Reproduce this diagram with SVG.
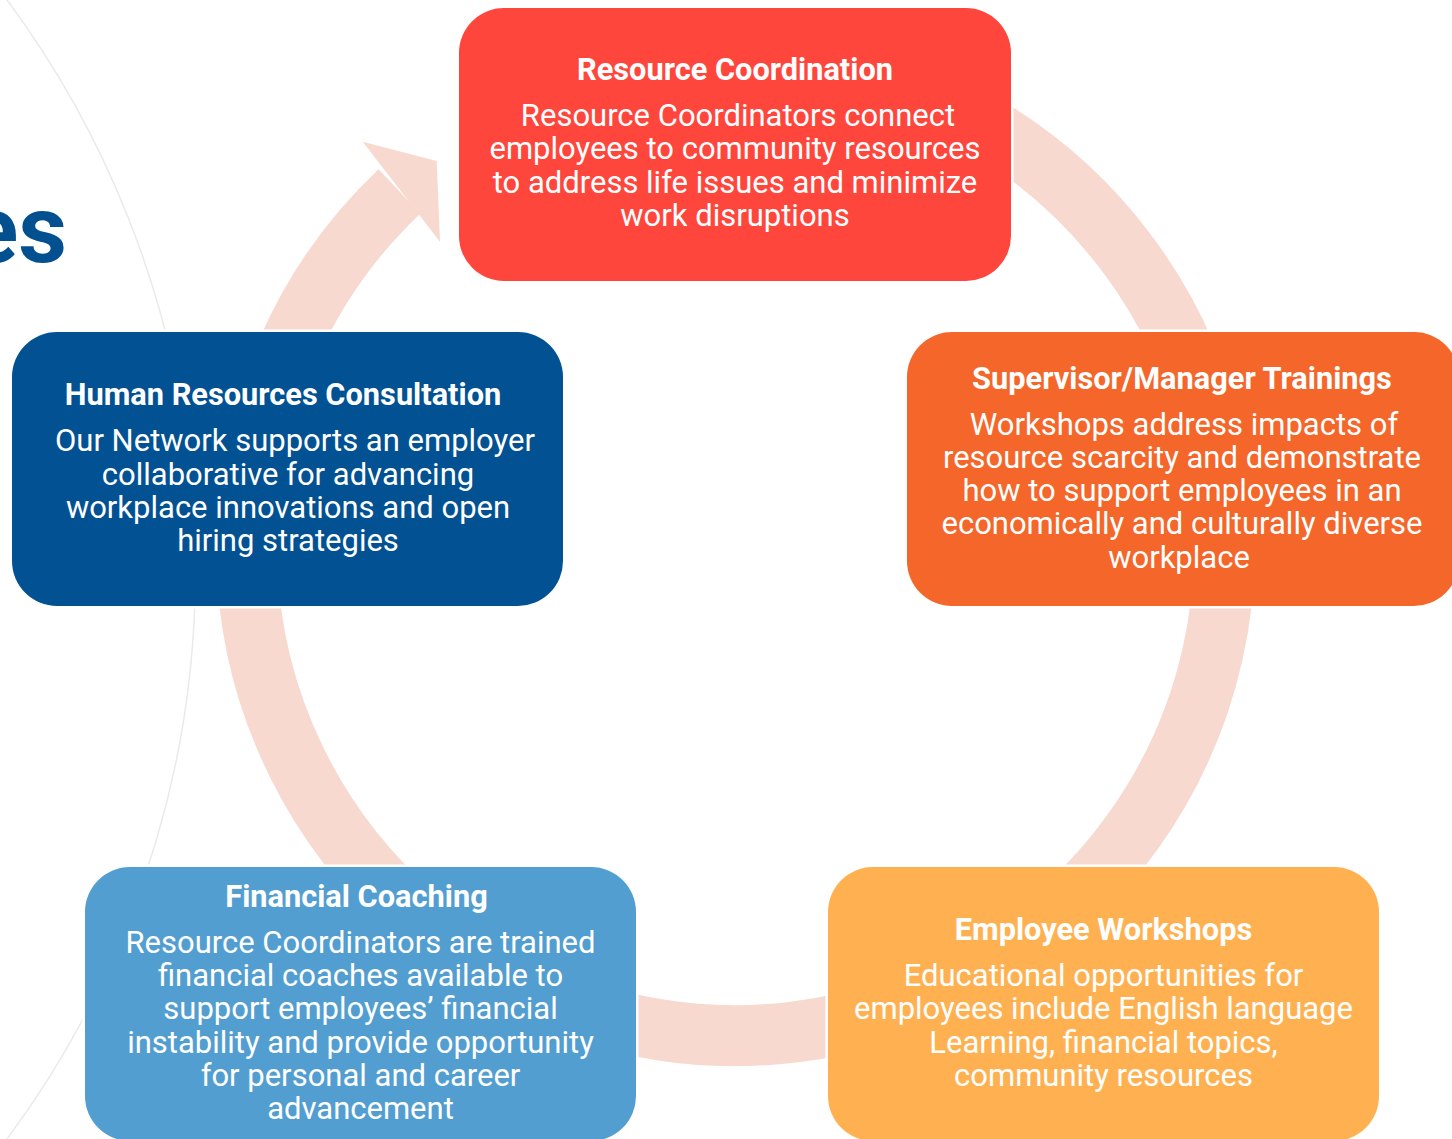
<svg xmlns="http://www.w3.org/2000/svg" width="1452" height="1139" viewBox="0 0 1452 1139">
<style>
.t{font-family:Roboto,"Liberation Sans",sans-serif;font-weight:700;font-size:30.75px;fill:#fff;text-anchor:middle}
.b{font-family:Roboto,"Liberation Sans",sans-serif;font-weight:400;font-size:31px;fill:#fff;text-anchor:middle}
.ring{fill:none;stroke:#F7D9CF;stroke-width:61}
</style>
<defs>
<mask id="cut" maskUnits="userSpaceOnUse" x="0" y="0" width="1452" height="1139">
<rect x="0" y="0" width="1452" height="1139" fill="#fff"/>
<rect x="456.5" y="5.5" width="557" height="278" fill="#000"/>
<rect x="904.5" y="329.5" width="557" height="279" fill="#000"/>
<rect x="9.5" y="329.5" width="556" height="279" fill="#000"/>
<rect x="82.5" y="864.5" width="556" height="279" fill="#000"/>
<rect x="825.5" y="864.5" width="556" height="279" fill="#000"/>
</mask>
</defs>
<rect width="1452" height="1139" fill="#fff"/>
<g id="background" mask="url(#cut)">
<circle cx="-758" cy="569.5" r="953.5" fill="none" stroke="#EAEAEA" stroke-width="1.5"/>
</g>
<text x="67" y="262" font-family="Roboto,'Liberation Sans',sans-serif" font-weight="700" font-size="95" fill="#02508F" text-anchor="end">es</text>
<g id="connectors" mask="url(#cut)">
<path class="ring" d="M 980 123.1 A 489 489 0 1 1 399.5 191.3"/>
<polygon points="362.7,141.7 436.7,161 440,241.7" fill="#F7D9CF"/>
</g>
<g id="resource-coordination">
<rect x="459" y="8" width="552" height="273" rx="45" fill="#FF463C"/>
<text class="t" x="735" y="80">Resource Coordination</text>
<text class="b" x="738" y="126">Resource Coordinators connect</text>
<text class="b" x="735" y="159">employees to community resources</text>
<text class="b" x="735" y="193">to address life issues and minimize</text>
<text class="b" x="735" y="226">work disruptions</text>
</g>
<g id="supervisor-manager-trainings">
<rect x="907" y="332" width="552" height="274" rx="45" fill="#F46629"/>
<text class="t" x="1182" y="389">Supervisor/Manager Trainings</text>
<text class="b" x="1184" y="435">Workshops address impacts of</text>
<text class="b" x="1182" y="468">resource scarcity and demonstrate</text>
<text class="b" x="1182" y="501">how to support employees in an</text>
<text class="b" x="1182" y="534">economically and culturally diverse</text>
<text class="b" x="1179" y="568">workplace</text>
</g>
<g id="human-resources-consultation">
<rect x="12" y="332" width="551" height="274" rx="45" fill="#025193"/>
<text class="t" x="283" y="405">Human Resources Consultation</text>
<text class="b" x="295" y="451">Our Network supports an employer</text>
<text class="b" x="288" y="485">collaborative for advancing</text>
<text class="b" x="288" y="518">workplace innovations and open</text>
<text class="b" x="288" y="551">hiring strategies</text>
</g>
<g id="financial-coaching">
<rect x="85" y="867" width="551" height="274" rx="45" fill="#539ED0"/>
<text class="t" x="356.5" y="907">Financial Coaching</text>
<text class="b" x="360.5" y="953">Resource Coordinators are trained</text>
<text class="b" x="360.5" y="986">financial coaches available to</text>
<text class="b" x="360.5" y="1019">support employees’ financial</text>
<text class="b" x="360.5" y="1053">instability and provide opportunity</text>
<text class="b" x="360.5" y="1086">for personal and career</text>
<text class="b" x="360.5" y="1119">advancement</text>
</g>
<g id="employee-workshops">
<rect x="828" y="867" width="551" height="274" rx="45" fill="#FFB151"/>
<text class="t" x="1103.5" y="940">Employee Workshops</text>
<text class="b" x="1103.5" y="986">Educational opportunities for</text>
<text class="b" x="1103.5" y="1019">employees include English language</text>
<text class="b" x="1103.5" y="1053">Learning, financial topics,</text>
<text class="b" x="1103.5" y="1086">community resources</text>
</g>
</svg>
